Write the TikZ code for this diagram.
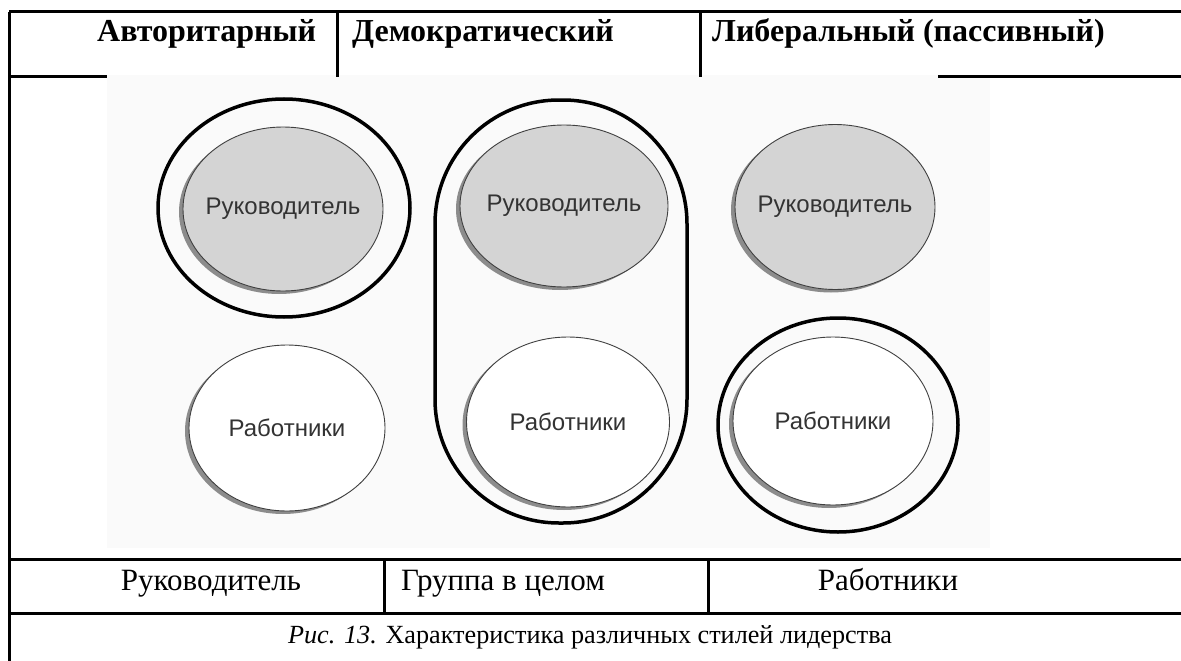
\documentclass[tikz,border=0pt]{standalone}
\usepackage{fontspec}
\setmainfont{Liberation Serif}
\newfontfamily\pictfont{Liberation Sans}
\usetikzlibrary{shapes.geometric,positioning}

\tikzstyle{grid}     = [line width=3pt, black]
\tikzstyle{headtext} = [font=\fontsize{32}{38}\selectfont\bfseries, inner sep=0pt, anchor=base west]
\tikzstyle{celltext} = [font=\fontsize{31}{36}\selectfont, inner sep=0pt, anchor=base]
\tikzstyle{capttext} = [font=\fontsize{26.2}{31}\selectfont, inner sep=0pt, anchor=base]
\tikzstyle{role}     = [ellipse, draw=black!75, line width=0.9pt, inner sep=0pt]
\tikzstyle{boss}     = [role, fill=black!17]
\tikzstyle{staff}    = [role, fill=white]
\tikzstyle{shade}    = [ellipse, fill=black!45, inner sep=0pt]
\tikzstyle{ring}     = [ellipse, draw=black, line width=3.5pt, inner sep=0pt]
\tikzstyle{rolename} = [font=\pictfont\fontsize{24}{28}\selectfont, text=black!80, inner sep=0pt]

\begin{document}
\begin{tikzpicture}[x=1pt,y=-1pt]
        \useasboundingbox (0,0) rectangle (1181,661);

        % scanned picture background
        \fill[black!2] (107,75) rectangle (990,548);

        % table
        \draw[grid] (9,12) -- (1181,12);
        \draw[grid] (9,12) -- (9,661);
        \draw[grid] (337,12) -- (337,77);
        \draw[grid] (700,12) -- (700,77);
        \draw[grid] (9,77) -- (107,77);
        \draw[grid] (938,77) -- (1181,77);
        \draw[grid] (9,559) -- (1181,559);
        \draw[grid] (384,559) -- (384,613);
        \draw[grid] (708,559) -- (708,613);
        \draw[grid] (9,613) -- (1181,613);

        \node[headtext] (hA) at (97,42) {Авторитарный};
        \node[headtext] (hB) at (352,42) {Демократический};
        \node[headtext] (hC) at (712,42) {Либеральный (пассивный)};

        \node[celltext] (fA) at (211,590) {Руководитель};
        \node[celltext] (fB) at (503,590) {Группа в целом};
        \node[celltext] (fC) at (888,590) {Работники};

        \node[capttext] (capt) at (590,643) {\textit{Рис. 13.} Характеристика различных стилей лидерства};

        % authoritarian
        \node[ring, minimum width=252, minimum height=218] (ringA) at (284,208) {};
        \node[shade, minimum width=200, minimum height=164] at (279,212) {};
        \node[boss, minimum width=200, minimum height=164] (bossA) at (283,209) {};
        \node[rolename] at (bossA.center) {Руководитель};
        \node[shade, minimum width=196, minimum height=166] at (283,431) {};
        \node[staff, minimum width=196, minimum height=166] (staffA) at (287,428) {};
        \node[rolename] at (staffA.center) {Работники};

        % democratic
        \node[rectangle, draw=black, line width=3.5pt, rounded corners=124, minimum width=252, minimum height=423] (group) at (561,311.5) {};
        \node[shade, minimum width=208, minimum height=162] at (560,209) {};
        \node[boss, minimum width=208, minimum height=162] (bossB) at (564,206) {};
        \node[rolename] at (bossB.center) {Руководитель};
        \node[shade, minimum width=203, minimum height=170] at (564,425) {};
        \node[staff, minimum width=203, minimum height=170] (staffB) at (568,422) {};
        \node[rolename] at (staffB.center) {Работники};

        % liberal
        \node[shade, minimum width=200, minimum height=165] at (831,210) {};
        \node[boss, minimum width=200, minimum height=165] (bossC) at (835,207) {};
        \node[rolename] at (bossC.center) {Руководитель};
        \node[ring, minimum width=240, minimum height=214] (ringC) at (838,425) {};
        \node[shade, minimum width=200, minimum height=168] at (829,424) {};
        \node[staff, minimum width=200, minimum height=168] (staffC) at (833,421) {};
        \node[rolename] at (staffC.center) {Работники};
\end{tikzpicture}
\end{document}
